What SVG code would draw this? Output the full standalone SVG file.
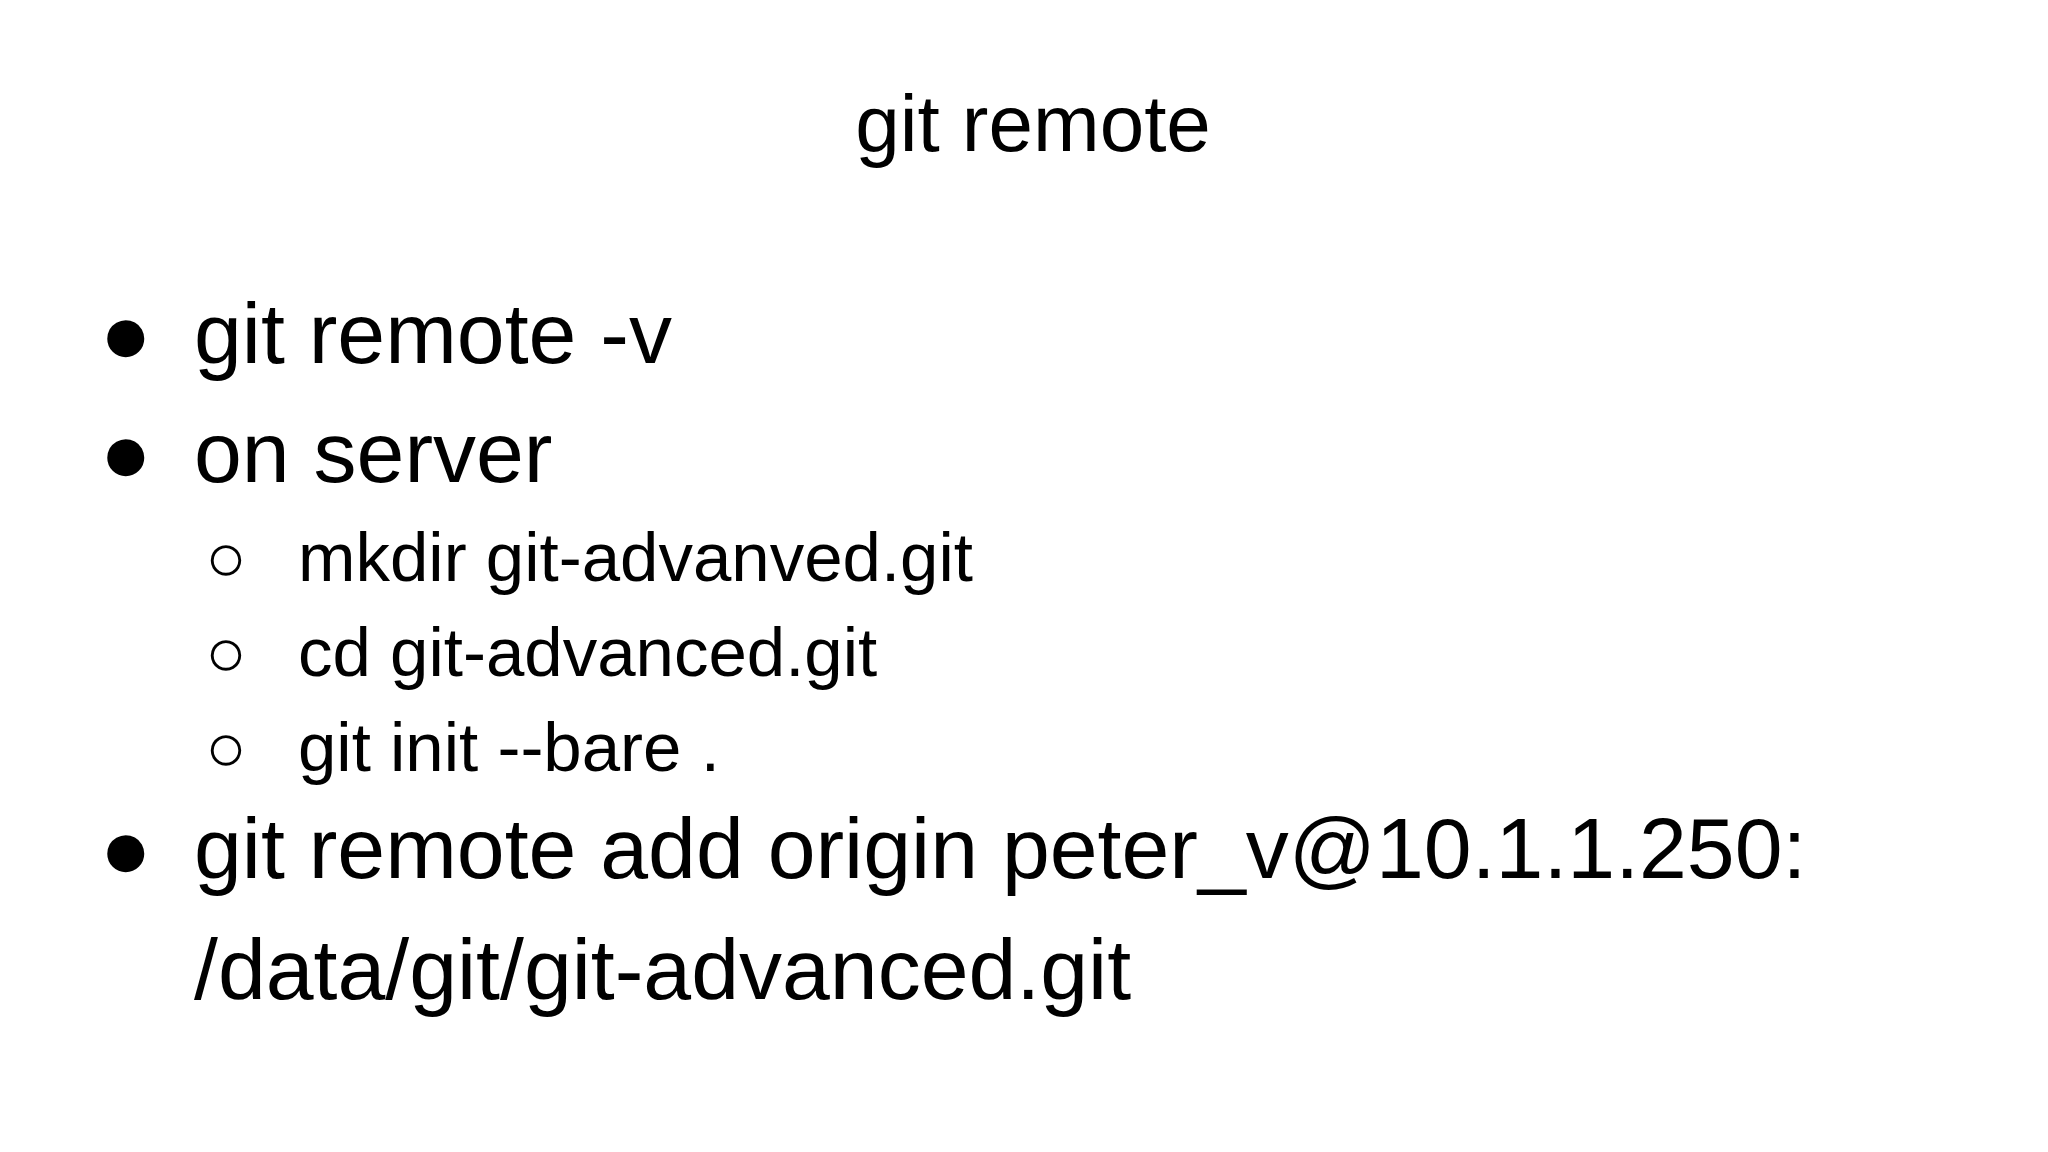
<svg xmlns="http://www.w3.org/2000/svg" width="2048" height="1152" viewBox="0 0 2048 1152">
<style>
text{font-family:"Liberation Sans",Arial,sans-serif;fill:#000}
.l1{font-size:86px}
.l2{font-size:69px}
.t{font-size:80px}
</style>
<rect width="2048" height="1152" fill="#fff"/>
<g id="title"><text class="t" x="1033" y="151" text-anchor="middle">git remote</text></g>
<g id="b1"><text class="l1" x="100" y="363">●</text><text class="l1" x="194" y="363">git remote -v</text></g>
<g id="b2"><text class="l1" x="100" y="482">●</text><text class="l1" x="194" y="482">on server</text></g>
<g id="s1"><text class="l2" x="205" y="581">○</text><text class="l2" x="298" y="581">mkdir git-advanved.git</text></g>
<g id="s2"><text class="l2" x="205" y="676">○</text><text class="l2" x="298" y="676">cd git-advanced.git</text></g>
<g id="s3"><text class="l2" x="205" y="771">○</text><text class="l2" x="298" y="771">git init --bare .</text></g>
<g id="b3"><text class="l1" x="100" y="878">●</text><text class="l1" x="194" y="878">git remote add origin peter_v@10.1.1.250:</text><text class="l1" x="194" y="999">/data/git/git-advanced.git</text></g>
</svg>
